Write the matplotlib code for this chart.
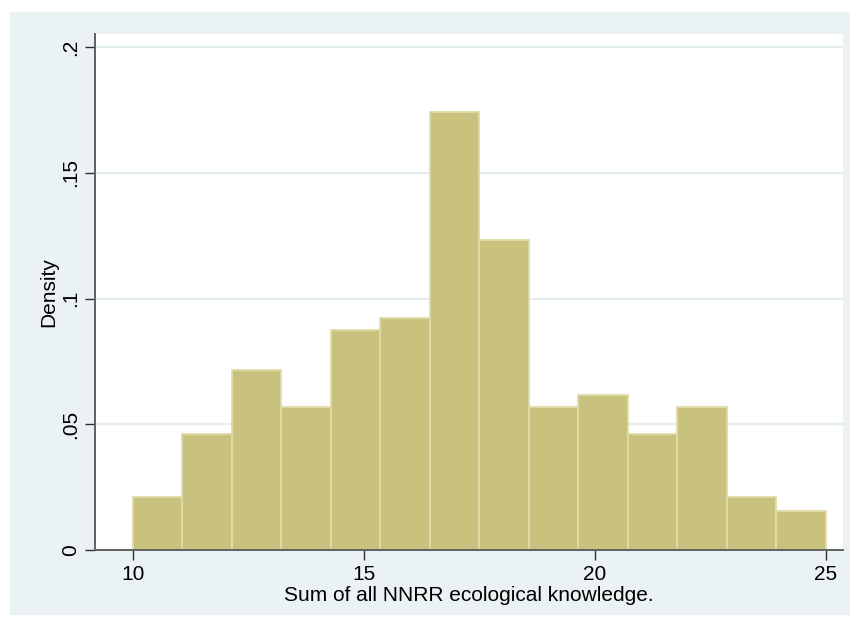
import matplotlib
matplotlib.use('Agg')

import matplotlib.pyplot as plt
from matplotlib.patches import Rectangle
import numpy as np

plt.rcParams['font.family'] = ['Liberation Sans', 'DejaVu Sans']

# Histogram: 14 bins from 10 to 25, density heights
bin_start = 10
bin_end = 25
n_bins = 14
density = [0.0211, 0.0461, 0.0716, 0.0569, 0.0875, 0.0922, 0.1742,
           0.1233, 0.0569, 0.0616, 0.0461, 0.0569, 0.0211, 0.0155]

x_ticks = [10, 15, 20, 25]
y_ticks = [0, 0.05, 0.1, 0.15, 0.2]
y_labels = ['0', '.05', '.1', '.15', '.2']

edges = np.linspace(bin_start, bin_end, n_bins + 1)
widths = np.diff(edges)

fig = plt.figure(figsize=(8.54, 6.28), dpi=100, facecolor='white')
# Stata-style light outer panel
fig.patches.append(Rectangle((10 / 854, 13 / 628), 840 / 854, 603 / 628,
                             transform=fig.transFigure, facecolor='#eaf2f3',
                             edgecolor='none', zorder=-10))

ax = fig.add_axes([95 / 854, 78 / 628, 748 / 854, 516 / 628])
ax.set_facecolor('white')

ax.bar(edges[:-1], density, width=widths, align='edge',
       color='#c9c27f', edgecolor='#e0dba8', linewidth=1.3, zorder=2)

ax.set_xlim(9.18, 25.37)
ax.set_ylim(0, 0.2052)

ax.set_xticks(x_ticks)
ax.set_yticks(y_ticks)
ax.set_yticklabels(y_labels, rotation=90, va='center')
ax.grid(axis='y', color='#e4eef0', linewidth=1.5, zorder=1)
ax.set_axisbelow(True)

for side in ['top', 'right']:
    ax.spines[side].set_visible(False)
for side in ['left', 'bottom']:
    ax.spines[side].set_color('#606060')
    ax.spines[side].set_linewidth(1.4)
    ax.spines[side].set_zorder(3)

ax.tick_params(axis='both', colors='#303030', labelcolor='black',
               labelsize=15, length=7, width=1.0, direction='out')
ax.tick_params(axis='y', pad=4)
ax.tick_params(axis='x', pad=4)

ax.set_xlabel('Sum of all NNRR ecological knowledge.', fontsize=15, labelpad=1)
ax.set_ylabel('Density', fontsize=15, labelpad=2)

fig.savefig('out.png', dpi=100, facecolor=fig.get_facecolor())
